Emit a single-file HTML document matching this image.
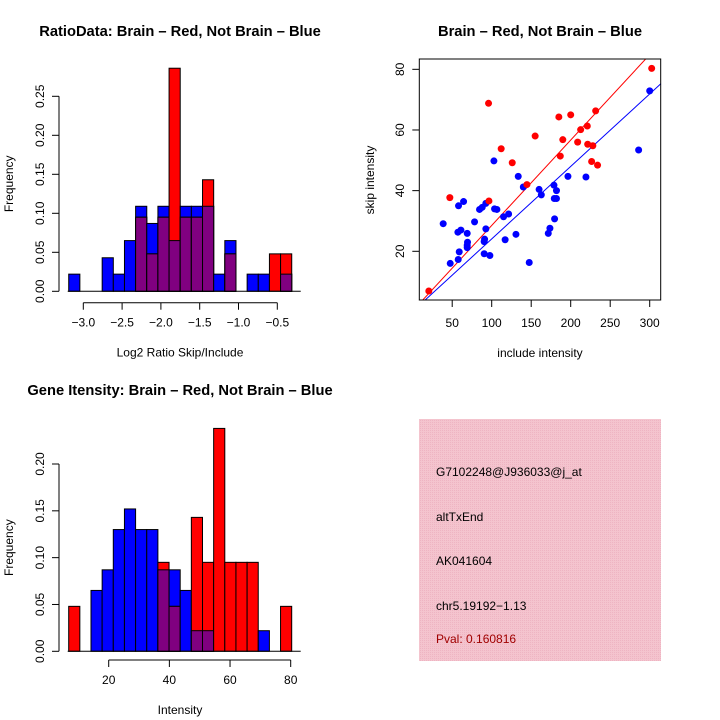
<!DOCTYPE html>
<html><head><meta charset="utf-8"><style>
body{margin:0;background:#fff}
svg{display:block;font-family:"Liberation Sans",sans-serif}
</style></head><body>
<svg id="c" width="720" height="720" viewBox="0 0 720 720">
<defs><pattern id="pk" width="2" height="2" patternUnits="userSpaceOnUse"><rect width="2" height="2" fill="#f4c4ce"/><rect width="1" height="1" fill="#eeb4c2"/></pattern></defs>
<text x="180" y="36" text-anchor="middle" font-size="14.7" font-weight="bold">RatioData: Brain – Red, Not Brain – Blue</text>
<text x="540" y="36" text-anchor="middle" font-size="14.7" font-weight="bold">Brain – Red, Not Brain – Blue</text>
<text x="180" y="395" text-anchor="middle" font-size="14.7" font-weight="bold">Gene Itensity: Brain – Red, Not Brain – Blue</text>
<g id="h1"></g><g id="sc"></g><g id="h2"></g>
<rect x="419" y="419" width="242" height="242" fill="url(#pk)"/>
<g font-size="12">
<text x="436" y="476">G7102248@J936033@j_at</text>
<text x="436" y="521">altTxEnd</text>
<text x="436" y="565">AK041604</text>
<text x="436" y="610">chr5.19192−1.13</text>
<text x="436" y="643" fill="#a00000">Pval: 0.160816</text>
</g>
</svg>
<script>
const h1Blue=[0.022,0,0,0.043,0.022,0.065,0.109,0.087,0.109,0.065,0.109,0.109,0.109,0.022,0.065,0,0.022,0.022,0,0.022];
const h1Red=[0,0,0,0,0,0,0.095,0.048,0.095,0.286,0.095,0.095,0.143,0,0.048,0,0,0,0.048,0.048];
const h1XTicks=[-3.0,-2.5,-2.0,-1.5,-1.0,-0.5];
const h1YTicks=[0,0.05,0.10,0.15,0.20,0.25];
const h2Blue=[0,0,0.065,0.087,0.130,0.152,0.130,0.130,0.087,0.087,0.065,0.022,0.022,0,0,0,0,0.022,0,0];
const h2Red=[0.048,0,0,0,0,0,0,0,0.095,0.048,0,0.143,0.095,0.238,0.095,0.095,0.095,0,0,0.048];
const h2XTicks=[20,40,60,80];
const h2YTicks=[0,0.05,0.10,0.15,0.20];
const redX=[20.4,47,96,96.5,112,126,144.6,155,185,186.8,190,200,208.8,212.6,221,221.5,228,226.5,231.6,234,302.5];
const redY=[6.9,37.7,68.8,36.6,53.8,49.2,42,58,64.3,51.4,56.8,65,56,60.1,61.3,55.3,54.8,49.6,66.3,48.4,80.3];
const blueX=[38.6,47.5,57.6,58.9,58,57.2,61,64.4,69,69.4,69,69,78.3,84.6,88,92.6,91,90.5,92.6,90.5,97.7,102.8,103.6,106.6,115,121.4,117,130.7,133.6,140,147.5,160,162.8,171.6,173.7,178.8,179.2,182,182,179.6,196.5,219.3,286,300];
const blueY=[29.1,16,17.3,19.8,35,26.3,27,36.4,25.9,23,22,21.2,29.7,33.8,34.5,35.8,24,23.2,27.4,19.2,18.6,49.8,34,33.8,31.4,32.3,23.8,25.6,44.7,41.2,16.3,40.4,38.6,25.9,27.6,41.8,37.4,40,37.4,30.7,44.7,44.5,53.4,72.9];
const fitRed=[0.36,0.2816];
const fitBlue=[0.18,0.239];
const sxTicks=[50,100,150,200,250,300];
const syTicks=[20,40,60,80];

const NS='http://www.w3.org/2000/svg';
function mk(p,t,a){const e=document.createElementNS(NS,t);for(const k in a)e.setAttribute(k,a[k]);p.appendChild(e);return e;}
function fmt(v,d){return (v<0?'\u2212':'')+Math.abs(v).toFixed(d);}

function histD(g,blue,red,xT,yT,xd,xlab,X,xlo,xhi,y0,ymax,ypx,axY){
  const n=blue.length,bw=(xhi-xlo)/n;
  const Y=v=>y0-v/ymax*ypx;
  for(let i=0;i<n;i++){
    const a=X(xlo+i*bw),w=X(xlo+(i+1)*bw)-a;
    const bv=blue[i],rv=red[i],m=Math.min(bv,rv);
    if(bv>0){const r=mk(g,'rect',{x:a,y:Y(bv),width:w,height:y0-Y(bv),fill:'#0000ff',stroke:'#000'});
      
      }
    if(rv>0){const r=mk(g,'rect',{x:a,y:Y(rv),width:w,height:y0-Y(rv),fill:'#ff0000',stroke:'#000'});
      
      }
    if(m>0){const r=mk(g,'rect',{x:a,y:Y(m),width:w,height:y0-Y(m),fill:'#800080',stroke:'#000'});
      
      }
  }
  mk(g,'line',{x1:X(xlo)-1,x2:X(xhi)+9,y1:y0,y2:y0,stroke:'#000'});
  mk(g,'line',{x1:59,x2:59,y1:Y(yT[0]),y2:Y(yT[yT.length-1]),stroke:'#000'});
  yT.forEach(v=>{mk(g,'line',{x1:52,x2:59,y1:Y(v),y2:Y(v),stroke:'#000'});
    const t=mk(g,'text',{x:0,y:0,'font-size':12,'text-anchor':'middle',transform:`translate(44,${Y(v)}) rotate(-90)`});t.textContent=v.toFixed(2);
    
    });
  mk(g,'line',{x1:X(xT[0]),x2:X(xT[xT.length-1]),y1:axY,y2:axY,stroke:'#000'});
  xT.forEach(v=>{mk(g,'line',{x1:X(v),x2:X(v),y1:axY,y2:axY+7,stroke:'#000'});
    const t=mk(g,'text',{x:X(v),y:axY+24,'font-size':12,'text-anchor':'middle'});t.textContent=fmt(v,xd);
    
    });
  const xl=mk(g,'text',{x:180,y:axY+54,'font-size':12,'text-anchor':'middle'});xl.textContent=xlab;
  
  
  const yl=mk(g,'text',{x:0,y:0,'font-size':12,'text-anchor':'middle',transform:`translate(13,${y0-ypx/2-10}) rotate(-90)`});yl.textContent='Frequency';
  
  
}
(function(){
  const g=document.getElementById('h1');
  const k=(277.3-83.3)/2.5;
  histD(g,h1Blue,h1Red,h1XTicks,h1YTicks,1,'Log2 Ratio Skip/Include',v=>83.3+(v+3)*k,-3.188,-0.314,291.3,0.25,195,302.7);
  const g2=document.getElementById('h2');
  const k2=(290.7-108.7)/60;
  histD(g2,h2Blue,h2Red,h2XTicks,h2YTicks,0,'Intensity',v=>108.7+(v-20)*k2,6.81,80.33,651.3,0.20,187.3,660);
})();
(function(){
  const g=document.getElementById('sc');
  const L=419.3,R=660.7,T=59,B=300;
  const X=v=>452.2+(v-50)*0.79, Y=v=>251.3-(v-20)*3.033;
  const Xi=p=>50+(p-452.2)/0.79;
  const cp=mk(g,'clipPath',{id:'scclip'});mk(cp,'rect',{x:L,y:T,width:R-L,height:B-T});
  [[fitRed,'#ff0000','red-fit-line'],[fitBlue,'#0000ff','blue-fit-line']].forEach(([f,c,nm])=>{
    const xa=Xi(L),xb=Xi(R);
    const l=mk(g,'line',{x1:X(xa),y1:Y(f[0]+f[1]*xa),x2:X(xb),y2:Y(f[0]+f[1]*xb),stroke:c,'clip-path':'url(#scclip)'});
    
    
  });
  blueX.forEach((v,i)=>{const c=mk(g,'circle',{cx:X(v),cy:Y(blueY[i]),r:3.5,fill:'#0000ff'});
    
    });
  redX.forEach((v,i)=>{const c=mk(g,'circle',{cx:X(v),cy:Y(redY[i]),r:3.5,fill:'#ff0000'});
    
    });
  const box=mk(g,'rect',{x:L,y:T,width:R-L,height:B-T,fill:'none',stroke:'#000'});
  
  
  sxTicks.forEach(v=>{mk(g,'line',{x1:X(v),x2:X(v),y1:B,y2:B+7,stroke:'#000'});
    const t=mk(g,'text',{x:X(v),y:B+27,'font-size':12,'text-anchor':'middle'});t.textContent=v;
    
    });
  syTicks.forEach(v=>{mk(g,'line',{x1:L-7,x2:L,y1:Y(v),y2:Y(v),stroke:'#000'});
    const t=mk(g,'text',{x:0,y:0,'font-size':12,'text-anchor':'middle',transform:`translate(404,${Y(v)}) rotate(-90)`});t.textContent=v;
    
    });
  const xl=mk(g,'text',{x:540,y:357,'font-size':12,'text-anchor':'middle'});xl.textContent='include intensity';
  
  
  const yl=mk(g,'text',{x:0,y:0,'font-size':12,'text-anchor':'middle',transform:'translate(374,180) rotate(-90)'});yl.textContent='skip intensity';
  
  
})();
</script>
</body></html>
